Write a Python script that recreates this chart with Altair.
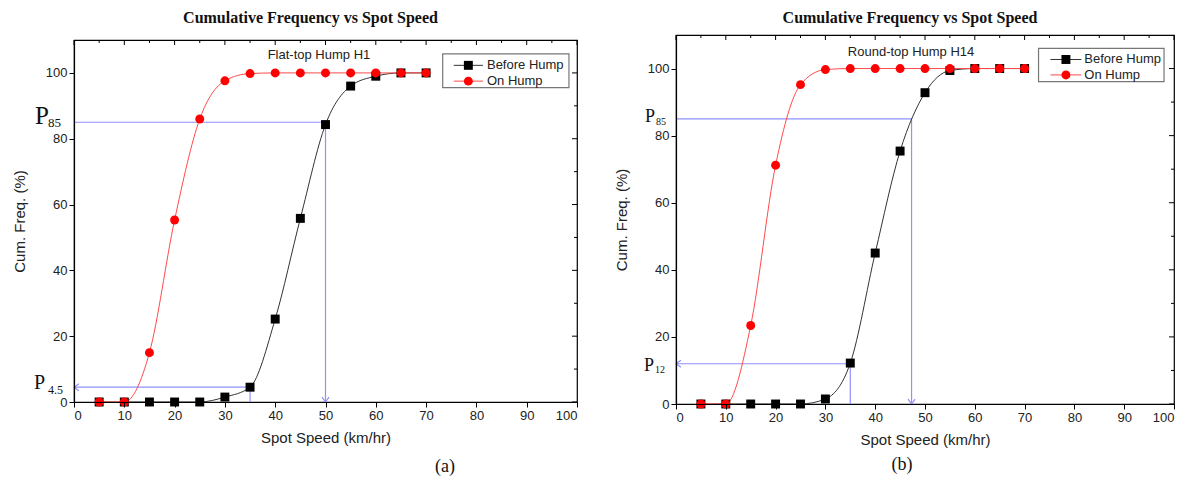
import altair as alt
import pandas as pd

# ---------------- data ----------------
SPEEDS = [5, 10, 15, 20, 25, 30, 35, 40, 45, 50, 55, 60, 65, 70]
BEFORE_A = [0, 0, 0, 0, 0, 1.5, 4.5, 25.2, 55.8, 84.3, 96.0, 99.0, 100, 100]
ON_A = [0, 0, 15.0, 55.3, 86.0, 97.6, 99.8, 100, 100, 100, 100, 100, 100, 100]
BEFORE_B = [0, 0, 0, 0, 0, 1.5, 12.2, 45.0, 75.4, 92.8, 99.4, 100, 100, 100]
ON_B = [0, 0, 23.4, 71.2, 95.2, 99.7, 100, 100, 100, 100, 100, 100, 100, 100]
SERIES = ["Before Hump", "On Hump"]

# percentile guide lines: (percent, speed, label)
P85_A = (85, 50.0, "85")
PLOW_A = (4.5, 35.0, "4.5")
P85_B = (85, 47.3, "85")
PLOW_B = (12, 35.0, "12")

X_TICKS = list(range(0, 101, 5))
Y_TICKS = list(range(0, 101, 10))
X_MAJOR = [v for v in X_TICKS if v % 10 == 0]
X_MINOR = [v for v in X_TICKS if v % 10 != 0]
Y_MAJOR = [v for v in Y_TICKS if v % 20 == 0]
Y_MINOR = [v for v in Y_TICKS if v % 20 != 0]

TITLE = "Cumulative Frequency vs Spot Speed"
NOTE_A = "Flat-top Hump H1"
NOTE_B = "Round-top Hump H14"

BLUE = "#9090ff"
SANS = "Liberation Sans"
SERIF = "Liberation Serif"

XS = alt.Scale(domain=[0, 100], nice=False)
YS = alt.Scale(domain=[0, 110], nice=False)

DOWN = "M-1,-1.4L0,0L1,-1.4"
LEFT = "M1.4,-1L0,0L1.4,1"


def title_params(offset):
    return alt.TitleParams(TITLE, font=SERIF, fontSize=16, fontWeight="bold",
                           anchor="middle", frame="group", dx=-15, offset=offset, color="#111")


def panel(before, on, note, note_pos, p85, plow, caption, caption_px,
          width, height, leg, pstyle):
    n = len(SPEEDS)
    df = pd.DataFrame({
        "speed": SPEEDS + SPEEDS,
        "freq": before + on,
        "series": [SERIES[0]] * n + [SERIES[1]] * n,
    })

    x_axis = alt.Axis(
        values=X_TICKS,
        labelExpr="datum.value % 10 === 0 ? datum.label : ''",
        tickSize={"condition": {"test": "datum.value % 10 === 0", "value": 5}, "value": 3},
        title="Spot Speed (km/hr)", titlePadding=8, zindex=1,
    )
    y_axis = alt.Axis(
        values=Y_TICKS,
        labelExpr="datum.value % 20 === 0 ? datum.label : ''",
        tickSize={"condition": {"test": "datum.value % 20 === 0", "value": 5}, "value": 3},
        title="Cum. Freq. (%)", titlePadding=18, zindex=1,
    )

    base = alt.Chart(df).encode(
        x=alt.X("speed:Q", scale=XS, axis=x_axis),
        y=alt.Y("freq:Q", scale=YS, axis=y_axis),
    )
    lines = base.mark_line(interpolate="monotone", strokeWidth=1).encode(
        stroke=alt.Stroke("series:N", scale=alt.Scale(domain=SERIES, range=["#333333", "#ff4a4a"]), legend=None),
        detail="series:N",
    )
    points = base.mark_point(filled=True, size=80, opacity=1).encode(
        fill=alt.Fill("series:N", scale=alt.Scale(domain=SERIES, range=["#000000", "#ff0000"]), legend=None),
        shape=alt.Shape("series:N", scale=alt.Scale(domain=SERIES, range=["square", "circle"]), legend=None),
    )

    # percentile guides
    g = pd.DataFrame({
        "x": [0, p85[1], 0, plow[1]],
        "x2": [p85[1], p85[1], plow[1], plow[1]],
        "y": [p85[0], p85[0], plow[0], plow[0]],
        "y2": [p85[0], 0, plow[0], 0],
    })
    guides = alt.Chart(g).mark_rule(color=BLUE, strokeWidth=1.2).encode(
        x=alt.X("x:Q", scale=XS), x2="x2:Q",
        y=alt.Y("y:Q", scale=YS), y2="y2:Q",
    )
    arrow_d = alt.Chart(pd.DataFrame({"x": [p85[1]], "y": [0]})).mark_point(
        shape=DOWN, size=49, filled=False, stroke=BLUE, strokeWidth=1.2, opacity=1
    ).encode(x=alt.X("x:Q", scale=XS), y=alt.Y("y:Q", scale=YS))
    arrow_l = alt.Chart(pd.DataFrame({"x": [0], "y": [plow[0]]})).mark_point(
        shape=LEFT, size=49, filled=False, stroke=BLUE, strokeWidth=1.2, opacity=1
    ).encode(x=alt.X("x:Q", scale=XS), y=alt.Y("y:Q", scale=YS))

    # P labels (P + subscript)
    pdf = pd.DataFrame({"y": [p85[0], plow[0]], "sub": [p85[2], plow[2]]})
    (px, psize, sx, ssize, dys) = pstyle
    plabels = []
    for i in range(2):
        row = pdf.iloc[[i]]
        plabels.append(alt.Chart(row).mark_text(
            font=SERIF, fontSize=psize[i], align="left", baseline="alphabetic",
            dy=dys[i][0], color="#111"
        ).encode(x=alt.value(px[i]), y=alt.Y("y:Q", scale=YS), text=alt.value("P")))
        plabels.append(alt.Chart(row).mark_text(
            font=SERIF, fontSize=ssize[i], align="left", baseline="alphabetic",
            dy=dys[i][1], color="#111"
        ).encode(x=alt.value(sx[i]), y=alt.Y("y:Q", scale=YS), text="sub:N"))

    # note text
    note_c = alt.Chart(pd.DataFrame({"x": [note_pos[0]], "y": [note_pos[1]], "t": [note]})).mark_text(
        font=SANS, fontSize=13, color="#222"
    ).encode(x=alt.X("x:Q", scale=XS), y=alt.Y("y:Q", scale=YS), text="t:N")

    # legend (drawn inside the plot)
    (bx1, bx2, by1, by2, rows_y, lx1, lx2, mx, tx) = leg
    box = alt.Chart(pd.DataFrame({"x": [bx1], "x2": [bx2], "y": [by1], "y2": [by2]})).mark_rect(
        fill="white", stroke="#777777", strokeWidth=1.2
    ).encode(x=alt.X("x:Q", scale=XS), x2="x2:Q", y=alt.Y("y:Q", scale=YS), y2="y2:Q")
    ldf = pd.DataFrame({"series": SERIES, "y": rows_y, "x1": [lx1] * 2, "x2": [lx2] * 2,
                        "mx": [mx] * 2, "tx": [tx] * 2})
    leg_lines = alt.Chart(ldf).mark_rule(strokeWidth=1).encode(
        x=alt.X("x1:Q", scale=XS), x2="x2:Q", y=alt.Y("y:Q", scale=YS),
        color=alt.Color("series:N", scale=alt.Scale(domain=SERIES, range=["#333333", "#ff4a4a"]), legend=None),
    )
    leg_pts = alt.Chart(ldf).mark_point(filled=True, size=80, opacity=1).encode(
        x=alt.X("mx:Q", scale=XS), y=alt.Y("y:Q", scale=YS),
        fill=alt.Fill("series:N", scale=alt.Scale(domain=SERIES, range=["#000000", "#ff0000"]), legend=None),
        shape=alt.Shape("series:N", scale=alt.Scale(domain=SERIES, range=["square", "circle"]), legend=None),
    )
    leg_txt = alt.Chart(ldf).mark_text(font=SANS, fontSize=13, align="left", baseline="middle", color="#222").encode(
        x=alt.X("tx:Q", scale=XS), y=alt.Y("y:Q", scale=YS), text="series:N"
    )

    # mirrored ticks on top and right
    top_maj = alt.Chart(pd.DataFrame({"v": X_MAJOR})).mark_rule(color="black").encode(
        x=alt.X("v:Q", scale=XS), y=alt.value(0), y2=alt.value(5))
    top_min = alt.Chart(pd.DataFrame({"v": X_MINOR})).mark_rule(color="black").encode(
        x=alt.X("v:Q", scale=XS), y=alt.value(0), y2=alt.value(3))
    r_maj = alt.Chart(pd.DataFrame({"v": Y_MAJOR})).mark_rule(color="black").encode(
        y=alt.Y("v:Q", scale=YS), x=alt.value(width), x2=alt.value(width - 5))
    r_min = alt.Chart(pd.DataFrame({"v": Y_MINOR})).mark_rule(color="black").encode(
        y=alt.Y("v:Q", scale=YS), x=alt.value(width), x2=alt.value(width - 3))

    cap = alt.Chart(pd.DataFrame({"t": [caption]})).mark_text(
        font=SERIF, fontSize=18, color="#111"
    ).encode(x=alt.value(caption_px[0]), y=alt.value(caption_px[1]), text="t:N")

    layers = [guides, arrow_d, arrow_l, lines, points, box, leg_lines, leg_pts, leg_txt,
              note_c, top_maj, top_min, r_maj, r_min, cap] + plabels
    return alt.layer(*layers).properties(width=width, height=height)


pa = panel(
    BEFORE_A, ON_A, NOTE_A, (48.7, 105.3), P85_A, PLOW_A, "(a)", (371, 427),
    503, 362,
    (73.3, 98.4, 95.5, 105.8, [102.3, 97.5], 75.5, 81.3, 78.4, 82.1),
    ([-39, -40], [25, 20], [-26, -26], [13, 12], [(1.5, 4.5), (2, 7)]),
)
pb = panel(
    BEFORE_B, ON_B, NOTE_B, (47.2, 105.0), P85_B, PLOW_B, "(b)", (226, 430),
    498, 369,
    (72.8, 98.0, 96.1, 106.0, [102.7, 98.1], 75.2, 81.4, 78.3, 82.0),
    ([-31, -32], [18, 18], [-20, -21], [10, 10], [(3.5, 6), (7, 9)]),
).properties(title=title_params(9))

# an empty thin strip carrying panel (a)'s title, lowering panel (a) slightly
spacer = alt.Chart(pd.DataFrame({"t": [0]})).mark_rect(opacity=0).encode(
    x=alt.value(0), x2=alt.value(1), y=alt.value(0), y2=alt.value(2)
).properties(
    width=503, height=2, view=alt.ViewBackground(stroke="transparent"), title=title_params(9)
)

chart = alt.hconcat(alt.vconcat(spacer, pa, spacing=0), pb, spacing=34).properties(
    padding={"left": 3, "top": 0, "right": 5, "bottom": 5}
).configure_view(
    stroke="black", strokeWidth=1.2
).configure_axis(
    domainColor="black", domainWidth=1.2, tickColor="black", tickWidth=1,
    labelFont=SANS, labelFontSize=13, labelColor="#222", labelPadding=2,
    titleFont=SANS, titleFontSize=15, titleFontWeight="normal", titleColor="#222",
    grid=False,
)

chart.save("out.html", embed_options={"renderer": "svg", "actions": False})
